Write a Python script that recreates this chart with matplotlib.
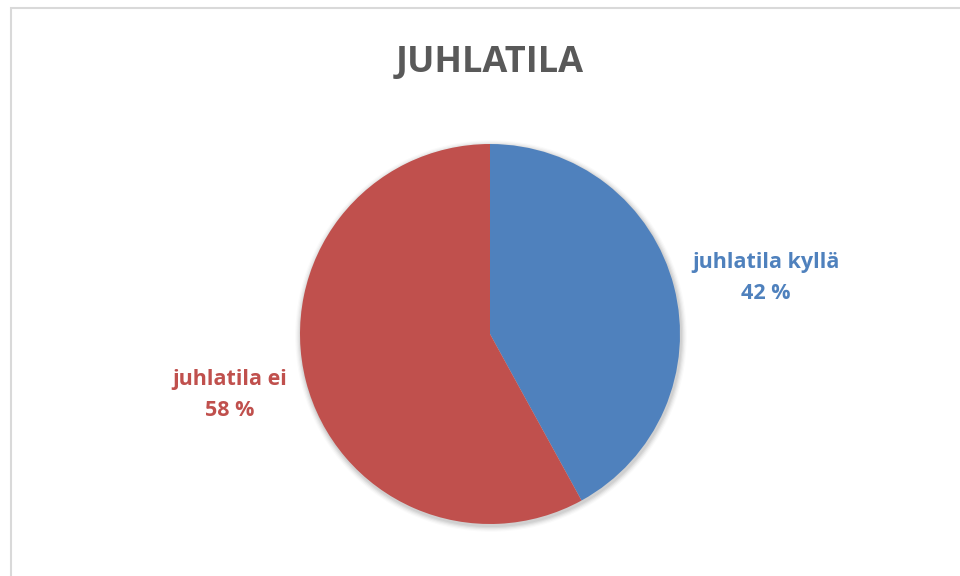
import matplotlib.pyplot as plt
from matplotlib.patches import Circle, Rectangle

labels = ["juhlatila kyllä", "juhlatila ei"]
values = [42, 58]
colors = ["#4F81BD", "#C0504D"]
title = "JUHLATILA"

plt.rcParams['font.family'] = ['Open Sans', 'DejaVu Sans']

W, H = 960, 576
fig = plt.figure(figsize=(9.6, 5.76), dpi=100)
ax = fig.add_axes([0, 0, 1, 1])

# chart frame (left and top edges visible)
ax.add_patch(Rectangle((10.5, -20), W + 40, H - 7.5 + 20, fill=False,
                       edgecolor='#D9D9D9', linewidth=1.5))

cx, cy, r = 490, H - 334, 190

# soft shadow beneath the pie
for i, a in enumerate([0.05, 0.05, 0.04, 0.03, 0.02]):
    ax.add_patch(Circle((cx + 1, cy - 2), r + 1 + i * 1.2, color='black',
                        alpha=a, linewidth=0, zorder=1))

ax.pie(values, colors=colors, startangle=90, counterclock=False,
       center=(cx, cy), radius=r, frame=True,
       wedgeprops=dict(linewidth=0, zorder=2))
ax.set_xlim(0, W)
ax.set_ylim(0, H)
ax.set_aspect('equal')
ax.axis('off')

ax.text(490, H - 72, title, ha='center', va='baseline', fontsize=26,
        fontweight='bold', color='#595959')

# data labels: name on one line, percentage below
label_pos = [(766, H - 268), (229.5, H - 385)]
for lab, v, c, (x, y) in zip(labels, values, colors, label_pos):
    ax.text(x, y, lab, ha='center', va='baseline', fontsize=15.5,
            fontweight='bold', color=c)
    ax.text(x, y - 31, f"{v} %", ha='center', va='baseline', fontsize=15.5,
            fontweight='bold', color=c)

fig.savefig('out.png', dpi=100)
